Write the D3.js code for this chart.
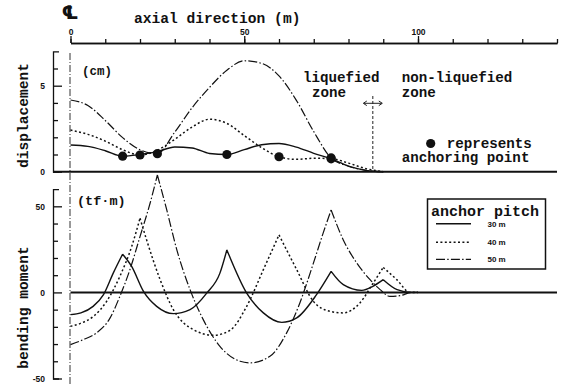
<!DOCTYPE html>
<html>
<head>
<meta charset="utf-8">
<script src="https://cdn.jsdelivr.net/npm/d3@7"></script>
<style>
  body { margin: 0; background: #fff; }
  svg { display: block; }
  .mono { font-family: "Liberation Mono", "DejaVu Sans Mono", monospace; font-weight: bold; fill: #111; }
  .num { font-family: "Liberation Sans", Arial, sans-serif; font-weight: bold; fill: #111; }
</style>
</head>
<body>
<svg id="chart" width="562" height="385"></svg>
<script>
// anchor pitch series
const pitches = ["30 m", "40 m", "50 m"];
const anchors = [[15, 45, 75], [20, 60], [25, 75]];
const liquefiedEnd = 87; // m, end of liquefied zone

// displacement (cm) along the axis (m)
const dispX = [0, 5, 10, 15, 20, 25, 30, 35, 40, 45, 50, 55, 60, 65, 70, 75, 80, 85, 90];
const disp30 = [1.55, 1.47, 1.22, 0.9, 1.0, 1.17, 1.44, 1.38, 1.06, 1.0, 1.28, 1.57, 1.64, 1.43, 1.07, 0.75, 0.32, 0.08, 0];
const disp40 = [2.42, 2.17, 1.78, 1.28, 0.97, 1.25, 1.88, 2.6, 3.05, 2.81, 2.1, 1.4, 0.87, 0.72, 0.78, 0.76, 0.5, 0.18, 0];
const disp50 = [4.17, 3.85, 2.98, 1.98, 1.28, 1.05, 2.3, 3.72, 4.9, 5.9, 6.45, 6.3, 5.57, 4.15, 2.33, 0.8, 0.32, 0.08, 0];

// bending moment (tf*m), cusps at the anchors
const bmX30 = [0, 3, 6.5, 9.5, 12.3, 15, 17.6, 21, 24.8, 29.6, 34.4, 39.2, 43, 45, 50.7, 55.5, 60.8, 65.1, 70.8, 75, 78.5, 83.8, 87, 90, 94, 98, 100];
const bm30 = [-12.9, -11.9, -8.1, -1.3, 11.2, 22.2, 15.1, 0.6, -8.1, -12.3, -10, -0.4, 11.2, 24.7, -0.4, -11.9, -17.4, -14.8, -1.3, 12.2, 4.5, 1.2, 3.5, 7.4, 1.6, 0, 0];
const bmX40 = [0, 2.7, 6.6, 10.4, 14.2, 17.6, 20, 21.9, 25.8, 29.6, 35.3, 41.1, 45.9, 50.7, 55.5, 60, 65.1, 69.9, 74.7, 78.5, 83.3, 87.1, 90, 93.9, 97.7, 100];
const bm40 = [-19.7, -18.1, -13.9, -5.2, 9.3, 26.6, 43.1, 30.5, 7.4, -10, -21.6, -24.9, -22, -8.1, 13.2, 33.4, 13.2, -5.2, -11, -11.9, -6.1, 5.4, 14.5, 7.4, 0, 0];
const bmX50 = [0, 3.7, 7.5, 11.4, 14.2, 17.1, 20, 22.9, 25, 27.7, 30.6, 34.4, 38.2, 43, 48.8, 51.7, 57.4, 62.2, 66, 69.9, 72.7, 75, 78.5, 82.4, 86.2, 89.1, 91.9, 94.8, 98.2, 100];
const bm50 = [-30.3, -27.4, -23.5, -14.8, -2.3, 13.2, 32.4, 51.8, 68.2, 47.9, 24.7, 1.6, -15.8, -31.3, -40, -40.9, -37.1, -23.5, -6.1, 17, 34.4, 47.9, 30.5, 17, 7.4, 1.6, -2.3, -1.9, 0, 0];
const bmBreaks = [[15, 45, 75, 90], [20, 60, 90], [25, 75]];

const xTicks = [0, 50, 100];
const dispTicks = [0, 5];
const bmTicks = [-50, 0, 50];

// line looks, same order as pitches
const dashes = [null, "2,2.4", "9,2.2,1.5,2.2"];
const widths = [1.4, 1.5, 1.2];

const svg = d3.select("#chart");
const axisX = 53;

const x = d3.scaleLinear().domain([0, 140]).range([70.5, 557]);
const yTop = d3.scaleLinear().domain([0, 7]).range([171.7, 51.3]);
const yBot = d3.scaleLinear().domain([-50, 60]).range([378.5, 189.1]);

const styleAxis = g => {
	g.attr("font-family", null).attr("font-size", null);
	g.selectAll("path, line").attr("stroke", "#111").attr("stroke-width", 1.3);
	g.selectAll("text").attr("class", "num");
}

// top axis
svg.append("g").attr("transform", "translate(0,43)")
	.call(d3.axisTop(x).tickValues(d3.range(0, 141, 10)).tickSize(4).tickSizeOuter(0).tickFormat(""))
	.call(styleAxis);
svg.append("g").attr("transform", "translate(0,43)")
	.call(d3.axisTop(x).tickValues(xTicks).tickSize(7).tickPadding(1).tickSizeOuter(0).tickFormat(d => d))
	.call(styleAxis)
	.call(g => g.selectAll("text").attr("font-size", 8.5));

svg.append("text").attr("class", "mono").attr("x", 134).attr("y", 23).attr("font-size", 14.6).text("axial direction (m)");
svg.append("text").attr("x", 70).attr("y", 19).attr("text-anchor", "middle")
	.attr("font-family", "DejaVu Sans").attr("font-weight", "bold").attr("font-size", 19).attr("fill", "#111").text("\u2104");

// left axes, ticks pointing inwards
const leftAxis = (y, major, minor) => {
	const g = svg.append("g").attr("transform", `translate(${axisX},0)`);
	g.append("g").call(d3.axisLeft(y).tickValues(minor).tickSize(-5).tickSizeOuter(-6).tickFormat("")).call(styleAxis);
	g.append("g").call(d3.axisLeft(y).tickValues(major).tickSize(-9).tickSizeOuter(0).tickPadding(8).tickFormat(d => d))
		.call(styleAxis)
		.call(g => { g.select(".domain").remove(); g.selectAll("text").attr("font-size", 8.5); });
}
leftAxis(yTop, dispTicks, [1, 2, 3, 4, 6]);
leftAxis(yBot, bmTicks, [-40, -30, -20, -10, 10, 20, 30, 40]);

// base lines
svg.append("line").attr("x1", axisX).attr("x2", 557).attr("y1", yTop(0)).attr("y2", yTop(0))
	.attr("stroke", "#111").attr("stroke-width", 2);
svg.append("line").attr("x1", x(0)).attr("x2", 557).attr("y1", yBot(0)).attr("y2", yBot(0))
	.attr("stroke", "#111").attr("stroke-width", 2);
// centre line
svg.append("line").attr("x1", x(0) - 0.5).attr("x2", x(0) - 0.5).attr("y1", 53).attr("y2", 385)
	.attr("stroke", "#333").attr("stroke-width", 1).attr("stroke-dasharray", "7,2,1,2");

// axis titles
svg.append("text").attr("class", "mono").attr("font-size", 14.6).attr("text-anchor", "middle")
	.attr("transform", "translate(28,115.5) rotate(-90)").text("displacement");
svg.append("text").attr("class", "mono").attr("font-size", 14.6).attr("text-anchor", "middle")
	.attr("transform", "translate(28,307.5) rotate(-90)").text("bending moment");
svg.append("text").attr("class", "mono").attr("font-size", 12.5).attr("x", 82).attr("y", 75).text("(cm)");
svg.append("text").attr("class", "mono").attr("font-size", 13.5).attr("x", 77).attr("y", 205).text("(tf\u00b7m)");

// split at cusps so each stretch is smoothed on its own
const splitAt = (xs, ys, breaks) => {
	const out = [];
	let cur = [];
	xs.forEach((v, i) => {
		cur.push([v, ys[i]]);
		if (breaks.includes(v)) { out.push(cur); cur = [[v, ys[i]]]; }
	});
	if (cur.length > 1) out.push(cur);
	return out;
}

const dispSeries = [disp30, disp40, disp50];
const lineTop = d3.line().x(d => x(d[0])).y(d => yTop(d[1])).curve(d3.curveMonotoneX);
dispSeries.forEach((vals, i) => {
	svg.append("path")
		.attr("d", lineTop(dispX.map((v, j) => [v, vals[j]])))
		.attr("fill", "none").attr("stroke", "#111")
		.attr("stroke-width", widths[i]).attr("stroke-dasharray", dashes[i]);
});

const bmSeries = [[bmX30, bm30], [bmX40, bm40], [bmX50, bm50]];
const lineBot = d3.line().x(d => x(d[0])).y(d => yBot(d[1])).curve(d3.curveMonotoneX);
bmSeries.forEach(([xs, ys], i) => {
	svg.append("path")
		.attr("d", splitAt(xs, ys, bmBreaks[i]).map(s => lineBot(s)).join(""))
		.attr("fill", "none").attr("stroke", "#111")
		.attr("stroke-width", widths[i]).attr("stroke-dasharray", dashes[i]);
});

// anchoring points
const dots = [];
anchors.forEach((list, i) => list.forEach(a => dots.push([a, dispSeries[i][dispX.indexOf(a)]])));
svg.selectAll("circle.anchor").data(dots).join("circle").attr("class", "anchor")
	.attr("cx", d => x(d[0])).attr("cy", d => yTop(d[1])).attr("r", 4.6).attr("fill", "#111");

// liquefied zone boundary
const bx = x(liquefiedEnd);
svg.append("line").attr("x1", bx).attr("x2", bx).attr("y1", 96).attr("y2", 171)
	.attr("stroke", "#222").attr("stroke-width", 1).attr("stroke-dasharray", "3,2");
svg.append("line").attr("x1", bx - 9).attr("x2", bx + 9).attr("y1", 103.3).attr("y2", 103.3)
	.attr("stroke", "#222").attr("stroke-width", 1);
svg.append("path").attr("d", `M${bx - 6},101 L${bx - 9.5},103.3 L${bx - 6},105.6 M${bx + 6},101 L${bx + 9.5},103.3 L${bx + 6},105.6`)
	.attr("fill", "none").attr("stroke", "#222").attr("stroke-width", 1);

const note = (t, px, py) => svg.append("text").attr("class", "mono").attr("font-size", 14.2).attr("x", px).attr("y", py).text(t);
note("liquefied", 303, 82);
note("zone", 312, 97);
note("non-liquefied", 401.7, 82);
note("zone", 401.7, 97);
note("represents", 446.7, 147.5);
note("anchoring point", 401.7, 162);
svg.append("circle").attr("cx", 430.7).attr("cy", 143.5).attr("r", 4.6).attr("fill", "#111");

// legend
const legend = svg.append("g");
legend.append("rect").attr("x", 427.5).attr("y", 199).attr("width", 118).attr("height", 70)
	.attr("fill", "#fff").attr("stroke", "#111").attr("stroke-width", 1.5);
legend.append("text").attr("class", "mono").attr("font-size", 15).attr("x", 431).attr("y", 215.5).text("anchor pitch");
const rowY = [223.8, 242.3, 259.3];
pitches.forEach((p, i) => {
	legend.append("line").attr("x1", 436).attr("x2", 471).attr("y1", rowY[i]).attr("y2", rowY[i])
		.attr("stroke", "#111").attr("stroke-width", widths[i]).attr("stroke-dasharray", dashes[i]);
	legend.append("text").attr("class", "num").attr("font-size", 8).attr("x", 487.5).attr("y", rowY[i] + 3).text(p);
});
</script>
</body>
</html>
